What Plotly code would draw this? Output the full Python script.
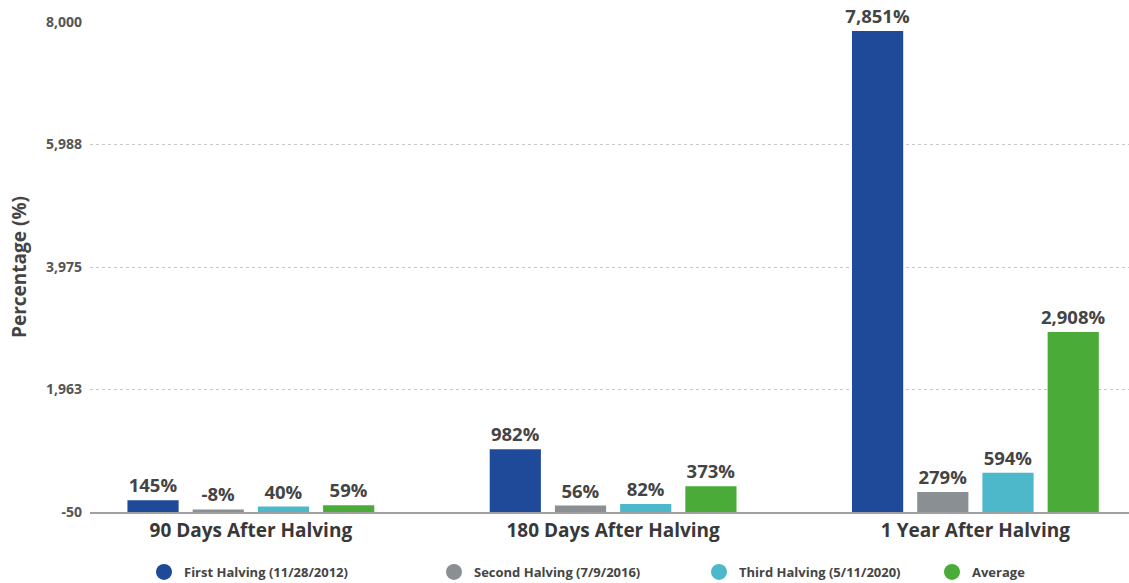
import plotly.graph_objects as go

categories = ["90 Days After Halving", "180 Days After Halving", "1 Year After Halving"]
series_names = ["First Halving (11/28/2012)", "Second Halving (7/9/2016)",
                "Third Halving (5/11/2020)", "Average"]
first_halving = [145, 982, 7851]
second_halving = [-8, 56, 279]
third_halving = [40, 82, 594]
average = [59, 373, 2908]
y_tick_values = [-50, 1962.5, 3975, 5987.5, 8000]
y_tick_labels = ["-50", "1,963", "3,975", "5,988", "8,000"]

colors = ["#1f4a9a", "#8a8f94", "#4cb8c9", "#4aab38"]
all_series = [first_halving, second_halving, third_halving, average]

Y_MIN, Y_MAX = -50, 8000
FONT = "Open Sans"
fig = go.Figure()
xs = list(range(len(categories)))
for name, vals, col in zip(series_names, all_series, colors):
    # bars rise from the bottom of the axis (-50), so every label sits above its bar
    fig.add_trace(go.Bar(
        x=xs, y=[v - Y_MIN for v in vals], base=Y_MIN, name=name,
        marker=dict(color=col, line=dict(width=0)),
        text=[f"{v:,}%" for v in vals], textposition="outside",
        constraintext="none",
        textfont=dict(family=FONT, size=18.5, color="#444444", weight="bold"),
        cliponaxis=False, showlegend=False, hoverinfo="skip",
    ))

legend_names = ["legend", "legend2", "legend3", "legend4"]
legend_x_px = [144, 434, 699, 932]
for name, col, lg in zip(series_names, colors, legend_names):
    fig.add_trace(go.Scatter(
        x=[None], y=[None], mode="markers", name=name, legend=lg,
        marker=dict(color=col, size=16, symbol="circle"),
    ))

plot_left, plot_right, plot_top, plot_bottom = 90, 1129, 22, 512
plot_w = plot_right - plot_left
plot_h = plot_bottom - plot_top
legend_common = dict(
    orientation="h", yanchor="middle", y=(plot_bottom - 572) / plot_h, xanchor="left",
    font=dict(family=FONT, size=13, color="#444444", weight="bold"),
    bgcolor="rgba(0,0,0,0)", borderwidth=0,
)
layout_legends = {}
for lg, px in zip(legend_names, legend_x_px):
    layout_legends[lg] = dict(legend_common, x=(px - plot_left) / plot_w)

fig.update_layout(
    width=1129, height=583,
    margin=dict(l=plot_left, r=1129 - plot_right, t=plot_top, b=583 - plot_bottom,
                autoexpand=False),
    paper_bgcolor="white", plot_bgcolor="white",
    barmode="group", bargap=0.28, bargroupgap=0.215,
    font=dict(family=FONT, color="#444444"),
    hovermode=False,
    xaxis=dict(
        tickmode="array", tickvals=xs, ticktext=categories,
        range=[-0.444, 2.424], showgrid=False, zeroline=False,
        showline=True, linecolor="#a0a0a0", linewidth=2,
        tickfont=dict(family=FONT, size=19, color="#383838", weight="bold"),
        ticks="", automargin=False,
    ),
    yaxis=dict(
        range=[Y_MIN, Y_MAX], tickmode="array", tickvals=y_tick_values,
        ticktext=y_tick_labels, showgrid=True, gridcolor="#c8c8c8",
        griddash="dot", gridwidth=1, zeroline=False, showline=False,
        tickfont=dict(family=FONT, size=14, color="#555555", weight="bold"),
        ticklabelstandoff=7, automargin=False,
        title=dict(text="Percentage (%)", standoff=14,
                   font=dict(family=FONT, size=19, color="#444444", weight="bold")),
    ),
    **layout_legends,
)

fig.write_html("out.html", config={"displayModeBar": False},
               post_script="document.body.style.margin='0';")
